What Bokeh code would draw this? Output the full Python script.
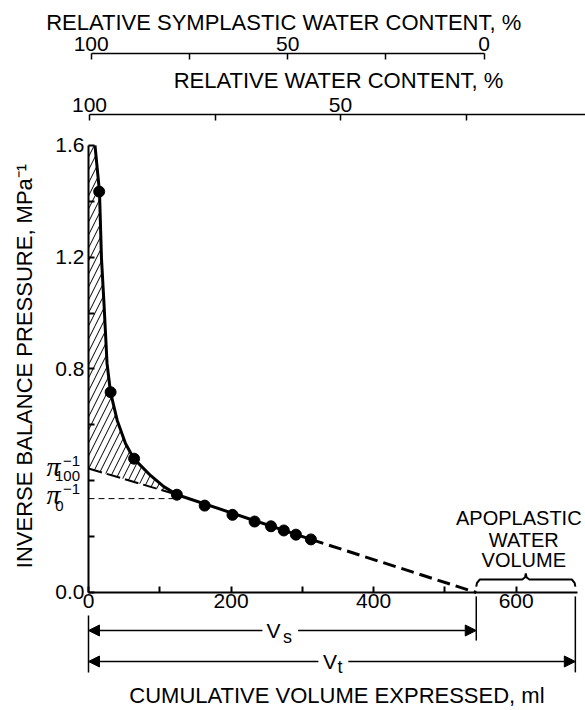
from math import pi
from bokeh.plotting import figure
from bokeh.models import Range1d, LinearAxis, FixedTicker, Label, Arrow, NormalHead
from bokeh.embed import file_html
from bokeh.resources import INLINE

# ---------------- data ----------------
vol_ml = [15, 31, 64, 124, 163, 202, 233, 256, 274, 291, 312]          # measured points
inv_p = [1.435, 0.717, 0.479, 0.350, 0.311, 0.278, 0.254, 0.237, 0.222, 0.207, 0.190]
curve_ml = [9.1, 15.4, 18.2, 21.5, 26.0, 30.9, 40.3, 51.9, 63.6, 87.0, 105.6, 124.4]  # fitted curve
curve_p = [1.60, 1.435, 1.196, 1.045, 0.820, 0.716, 0.616, 0.533, 0.479, 0.419, 0.379, 0.350]
pi100_inv = 0.444        # pi_100^-1
pi0_inv = 0.336          # pi_0^-1
v_s = 544                # symplastic water volume (ml)
v_t = 683                # total water volume (ml)

x_ticks = [0, 200, 400, 600]
x_minor = [100, 300, 500]
y_ticks = [0.0, 0.4, 0.8, 1.2, 1.6]
y_minor = [0.2, 0.6, 1.0, 1.4]
y_labels = {0: "0.0", 0.4: ""}
pct_ticks = [0, 25, 50, 75, 100]
pct_labels = {25: "", 75: ""}

FONT = "Liberation Sans"
TICK = "21px"
TITLE = "22px"

# one frame covering the whole canvas; every axis is drawn at a fixed location
p = figure(width=585, height=710, output_backend="svg", toolbar_location=None,
           x_range=Range1d(-123.46, 697.25), y_range=Range1d(-0.4224, 2.1190),
           min_border_left=0, min_border_right=0, min_border_top=0, min_border_bottom=0)
p.grid.visible = False
p.outline_line_color = None
p.background_fill_color = "white"
p.border_fill_color = "white"

RWC_Y = 1.711   # height of the relative water content axis
SYM_Y = 1.929   # height of the relative symplastic water content axis


def style_axis(ax):
    ax.axis_line_width = 2
    ax.axis_line_color = "black"
    ax.major_tick_line_width = 2
    ax.minor_tick_line_width = 2
    ax.major_tick_line_color = "black"
    ax.minor_tick_line_color = "black"
    ax.major_tick_in = 6
    ax.major_tick_out = 0
    ax.minor_tick_in = 6
    ax.minor_tick_out = 0
    ax.major_label_text_font = FONT
    ax.major_label_text_font_size = TICK
    ax.major_label_text_color = "black"


# y axis at x = 0
ya = p.yaxis[0]
style_axis(ya)
ya.fixed_location = 0
ya.ticker = FixedTicker(ticks=y_ticks, minor_ticks=y_minor)
ya.major_label_overrides = y_labels
ya.bounds = (0, 1.6)
ya.major_label_standoff = 4

# x axis at y = 0
xa = p.xaxis[0]
style_axis(xa)
xa.fixed_location = 0
xa.bounds = (0, 686)
xa.ticker = FixedTicker(ticks=x_ticks, minor_ticks=x_minor)
xa.major_label_standoff = 2

# top axes
p.extra_x_ranges = {"rwc": Range1d(117.73, 1.2), "sym": Range1d(123.08, -25.78)}
rwc = LinearAxis(x_range_name="rwc", ticker=FixedTicker(ticks=pct_ticks),
                 major_label_overrides=pct_labels, bounds=(0, 100), fixed_location=RWC_Y)
style_axis(rwc)
rwc.axis_line_width = 1.5
rwc.major_tick_line_width = 1.5
rwc.major_label_standoff = 2

sym = LinearAxis(x_range_name="sym", ticker=FixedTicker(ticks=pct_ticks),
                 major_label_overrides=pct_labels, bounds=(0, 100), fixed_location=SYM_Y)
style_axis(sym)
sym.axis_line_width = 1.5
sym.major_tick_line_width = 1.5
sym.major_label_standoff = 3

p.add_layout(rwc, "above")
p.add_layout(sym, "above")


def add_label(x, y, text, xo, yo, size, font=FONT, style="normal", angle=0.0, x_range_name="default"):
    p.add_layout(Label(x=x, y=y, text=text, x_offset=xo, y_offset=yo, text_font=font,
                       text_font_size=size, text_font_style=style, text_color="black",
                       text_align="center", text_baseline="middle", angle=angle,
                       x_range_name=x_range_name))


# axis titles
add_label(50, SYM_Y, "RELATIVE SYMPLASTIC WATER CONTENT, %", -4, 31, TITLE, x_range_name="sym")
add_label(50, RWC_Y, "RELATIVE WATER CONTENT, %", -2, 34, TITLE, x_range_name="rwc")
add_label(v_t / 2, 0, "CUMULATIVE VOLUME EXPRESSED, ml", 5, -103, TITLE)
add_label(0, 0.8, "INVERSE BALANCE PRESSURE, MPa⁻¹", -64, 3, TITLE, angle=pi / 2)

# hatched area between curve and extrapolated line
p.patch([0, 0] + curve_ml, [pi100_inv, 1.6] + curve_p, fill_color=None, line_color=None,
        hatch_pattern="/", hatch_color="black", hatch_weight=1, hatch_scale=13)

# pi_0 dashed reference line
p.line([0, vol_ml[3]], [pi0_inv, pi0_inv], line_color="black", line_width=1, line_dash="6 4")
# extrapolation to x = 0
p.line([0, curve_ml[-1]], [pi100_inv, curve_p[-1]], line_color="black", line_width=2, line_dash="14 5")
# main curve
p.line(curve_ml + [vol_ml[-1]], curve_p + [inv_p[-1]], line_color="black", line_width=3)
# extrapolation to the x axis
p.line([vol_ml[-1], v_s], [inv_p[-1], 0], line_color="black", line_width=3, line_dash="13 6")
# points
p.scatter(vol_ml, inv_p, size=11, color="black")

# pi labels
for yv, sub, sub_xo, pi_yo, sup_yo, sub_yo in [(pi100_inv, "100", -21, 2, 7, -8),
                                               (pi0_inv, "0", -29, 4, 10, -7)]:
    add_label(0, yv, "π", -35, pi_yo, "28px", "Liberation Serif", "italic")
    add_label(0, yv, "−1", -17, sup_yo, "15px")
    add_label(0, yv, sub, sub_xo, sub_yo, "15px")

# apoplastic brace
mid = (v_s + v_t) / 2
b_end, b_bar, b_cusp = 0.021, 0.0465, 0.068
brace_x = [v_s, v_s + 1, v_s + 5, mid - 5, mid - 1, mid, mid + 1, mid + 5, v_t - 5, v_t - 1, v_t]
brace_y = [b_end, b_bar - 0.012, b_bar, b_bar, b_bar + 0.008, b_cusp, b_bar + 0.008, b_bar, b_bar,
           b_bar - 0.012, b_end]
p.line(brace_x, brace_y, line_color="black", line_width=2)
for txt, yv, xo in [("APOPLASTIC", 0.267, -7), ("WATER", 0.188, -2), ("VOLUME", 0.116, -2)]:
    add_label(mid, yv, txt, xo, 0, "20px")

# dimension lines V_s and V_t
dim_s, dim_t = -0.136, -0.247
p.segment(x0=[0, v_s, v_t], y0=[-0.082, -0.014, -0.014], x1=[0, v_s, v_t], y1=[-0.286, -0.172, -0.286],
          line_color="black", line_width=1.5)
for x_mid, yv, g0, g1, x_end in [(v_s / 2, dim_s, 28, 22, v_s), (v_t / 2, dim_t, 19, 23, v_t)]:
    p.add_layout(Arrow(x_start=x_mid - g0, y_start=yv, x_end=0, y_end=yv, line_width=1.5,
                       end=NormalHead(size=11, fill_color="black", line_color="black")))
    p.add_layout(Arrow(x_start=x_mid + g1, y_start=yv, x_end=x_end, y_end=yv, line_width=1.5,
                       end=NormalHead(size=11, fill_color="black", line_color="black")))
add_label(v_s / 2, dim_s, "V", -9, 0, "21px")
add_label(v_s / 2, dim_s, "s", 5, -7, "18px")
add_label(v_t / 2, dim_t, "V", -2, 0, "21px")
add_label(v_t / 2, dim_t, "t", 8, -6, "18px")

open("out.html", "w").write(file_html(p, INLINE))
